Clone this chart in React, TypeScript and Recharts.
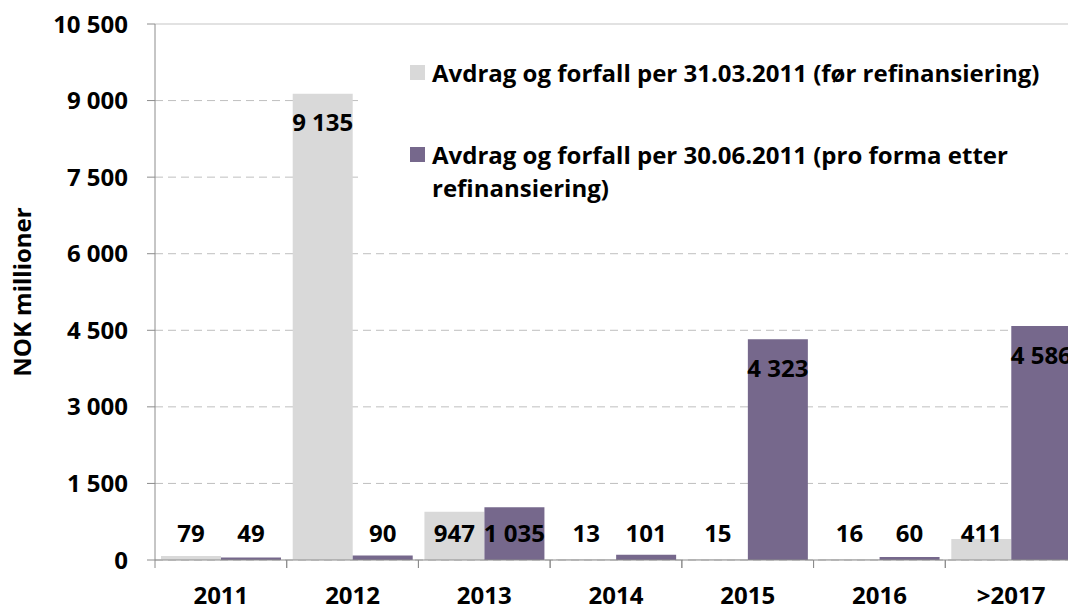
import React from "react";
import {
  BarChart,
  Bar,
  XAxis,
  YAxis,
  CartesianGrid,
  Legend,
  LabelList,
  ReferenceLine
} from "recharts";

const categories = ["2011", "2012", "2013", "2014", "2015", "2016", ">2017"];
const beforeRefi = [79, 9135, 947, 13, 15, 16, 411];
const afterRefi = [49, 90, 1035, 101, 4323, 60, 4586];
const yTicks = [0, 1500, 3000, 4500, 6000, 7500, 9000, 10500];

const NAME_BEFORE = "Avdrag og forfall per 31.03.2011 (før refinansiering)";
const NAME_AFTER = "Avdrag og forfall per 30.06.2011 (pro forma etter refinansiering)";

const FONT = "'Open Sans', Lato, sans-serif";
const FS = 24;
const GREY = "#d9d9d9";
const PURPLE = "#76688c";
const AXIS = "#8c8c8c";

const CHART_W = 1077;
const CHART_H = 610;
const PLOT_LEFT = 155;
const HALF_BAND = (CHART_W - PLOT_LEFT) / categories.length / 2;

const data = categories.map((c, i) => ({
  year: c,
  before: beforeRefi[i],
  after: afterRefi[i]
}));

const fmt = (v: number) => String(v).replace(/\B(?=(\d{3})+(?!\d))/g, " ");

const XTick = ({ x, y, payload }: any) => (
  <g>
    <line x1={x - HALF_BAND} x2={x - HALF_BAND} y1={y} y2={y + 8} stroke={AXIS} />
    <line x1={x + HALF_BAND} x2={x + HALF_BAND} y1={y} y2={y + 8} stroke={AXIS} />
    <text x={x} y={y + 44} textAnchor="middle" fontFamily={FONT} fontWeight={700} fontSize={FS} fill="#000">
      {payload.value}
    </text>
  </g>
);

// small bars get the label near the base, big ones just inside the top
const BarValue = (props: any) => {
  const { x, y, width, height, value } = props;
  const bottom = y + height;
  const cy = Math.min(y + 29, bottom - 27);
  return (
    <text x={x + width / 2} y={cy} dy="0.36em" textAnchor="middle" fontFamily={FONT} fontWeight={700} fontSize={FS} fill="#000">
      {fmt(value)}
    </text>
  );
};

const LegendBox = ({ payload }: any) => {
  const items = [NAME_BEFORE, NAME_AFTER]
    .map((n) => (payload || []).find((p: any) => p.value === n))
    .filter(Boolean);
  return (
    <div style={{ background: "#fff", width: 713, height: 172, position: "relative", fontFamily: FONT, fontWeight: 700, fontSize: FS, lineHeight: "33px", color: "#000" }}>
      {items.map((p: any, i: number) => (
        <div key={p.value} style={{ position: "absolute", left: 47, top: i === 0 ? 16 : 98, display: "flex" }}>
          <div style={{ width: 15, height: 15, background: p.color, marginTop: 9, marginRight: 7, flexShrink: 0 }} />
          <div style={{ width: 630 }}>{p.value}</div>
        </div>
      ))}
    </div>
  );
};

export default function App() {
  return (
    <div style={{ position: "fixed", left: 0, top: 0, width: 1068, height: 610, overflow: "hidden", background: "#fff" }}>
      <BarChart
        width={CHART_W}
        height={CHART_H}
        data={data}
        margin={{ top: 24, right: 0, bottom: 0, left: 0 }}
        barGap={0}
      >
        <CartesianGrid vertical={false} stroke="#bfbfbf" strokeDasharray="8 5" />
        <ReferenceLine y={10500} stroke="#e2e2e2" strokeWidth={2} />
        <XAxis
          dataKey="year"
          height={50}
          stroke={AXIS}
          tickLine={false}
          tickSize={0}
          tickMargin={0}
          tick={<XTick />}
          interval={0}
        />
        <YAxis
          width={PLOT_LEFT}
          domain={[0, 10500]}
          ticks={yTicks}
          stroke={AXIS}
          tickSize={8}
          tickMargin={19}
          tickFormatter={fmt}
          tick={{ fontFamily: FONT, fontWeight: 700, fontSize: FS, fill: "#000" }}
          label={{
            value: "NOK millioner",
            angle: -90,
            position: "center",
            dx: -55,
            style: { fontFamily: FONT, fontWeight: 700, fontSize: FS, fill: "#000" }
          }}
        />
        <Legend
          layout="horizontal"
          verticalAlign="middle"
          align="center"
          wrapperStyle={{ left: 363, top: 40, width: 713, height: 172 }}
          content={<LegendBox />}
        />
        <Bar dataKey="before" name={NAME_BEFORE} fill={GREY} barSize={60} isAnimationActive={false}>
          <LabelList dataKey="before" content={<BarValue />} />
        </Bar>
        <Bar dataKey="after" name={NAME_AFTER} fill={PURPLE} barSize={60} isAnimationActive={false}>
          <LabelList dataKey="after" content={<BarValue />} />
        </Bar>
      </BarChart>
    </div>
  );
}
